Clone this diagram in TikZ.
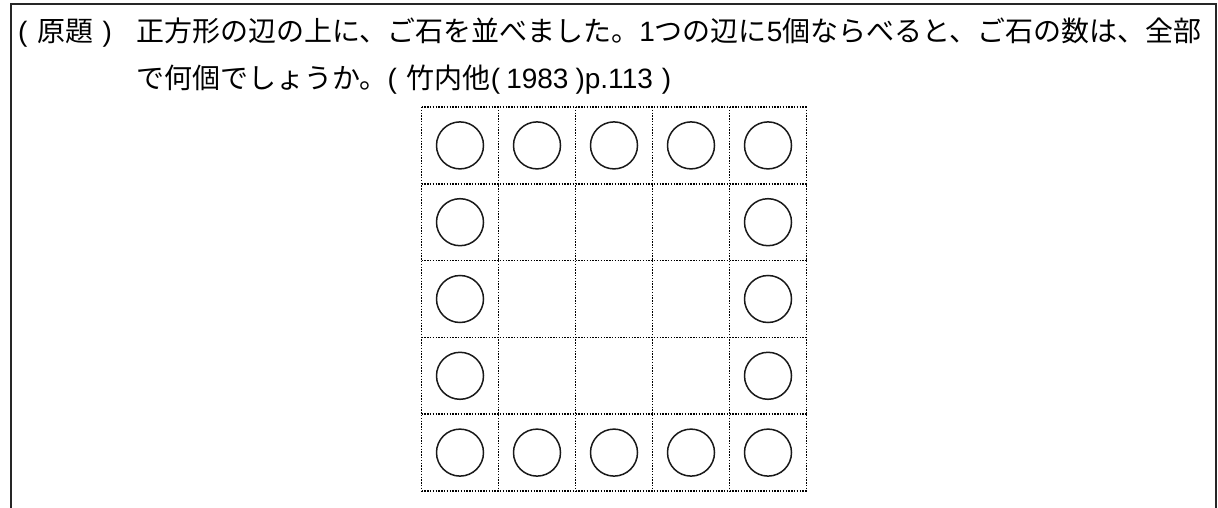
\documentclass[tikz,border=0pt]{standalone}
\usepackage{fontspec}
\setmainfont{Liberation Sans}
\newfontfamily\jp{Noto Sans CJK JP}
\tikzset{
  frameline/.style={line width=2.6pt, draw=black!85},
  cellgrid/.style={line width=1.5pt, dash pattern=on 1.4pt off 1.4pt, draw=black},
  stone/.style={circle, draw=black!90, line width=1.5pt, minimum size=47pt, inner sep=0pt},
  txt/.style={anchor=base west, inner sep=0pt, font=\fontsize{28pt}{32pt}\selectfont}
}
\begin{document}
\begin{tikzpicture}[x=1pt,y=1pt]
\useasboundingbox (0,0) rectangle (1218,-508);
% frame (open at the bottom)
\coordinate (fbl) at (11,-510);
\coordinate (ftl) at (11,-4);
\coordinate (ftr) at (1216,-4);
\coordinate (fbr) at (1216,-510);
\draw[frameline] (fbl) -- (ftl) -- (ftr) -- (fbr);
% text
\node[txt] (lab) at (18,-42) {(\hspace{10pt}{\jp 原題}\hspace{9pt})};
\node[txt] (l1) at (136,-42) {{\jp 正方形の辺の上に、ご石を並べました。}1{\jp つの辺に}5{\jp 個ならべると、ご石の数は、全部}};
\node[txt] (l2) at (136,-89) {{\jp で何個でしょうか。}(\hspace{10pt}{\jp 竹内他}(\hspace{6pt}1983\hspace{7pt})p.113\hspace{9pt})};
% grid
\foreach \i in {0,...,5}{
  \coordinate (vt\i) at ({421.5+77*\i},-107);
  \coordinate (vb\i) at ({421.5+77*\i},-491);
  \coordinate (hl\i) at (421.5,{-107-76.8*\i});
  \coordinate (hr\i) at (806.5,{-107-76.8*\i});
  \draw[cellgrid] (vt\i) -- (vb\i);
  \draw[cellgrid] (hl\i) -- (hr\i);
}
% stones
\foreach \c in {0,...,4}{
  \foreach \r in {0,...,4}{
    \pgfmathtruncatemacro{\edge}{(\c==0)||(\c==4)||(\r==0)||(\r==4)}
    \ifnum\edge=1
      \node[stone] (s\c\r) at ({421.5+77*\c+38.5},{-107-76.8*\r-38.4}) {};
    \fi
  }
}
\end{tikzpicture}
\end{document}
